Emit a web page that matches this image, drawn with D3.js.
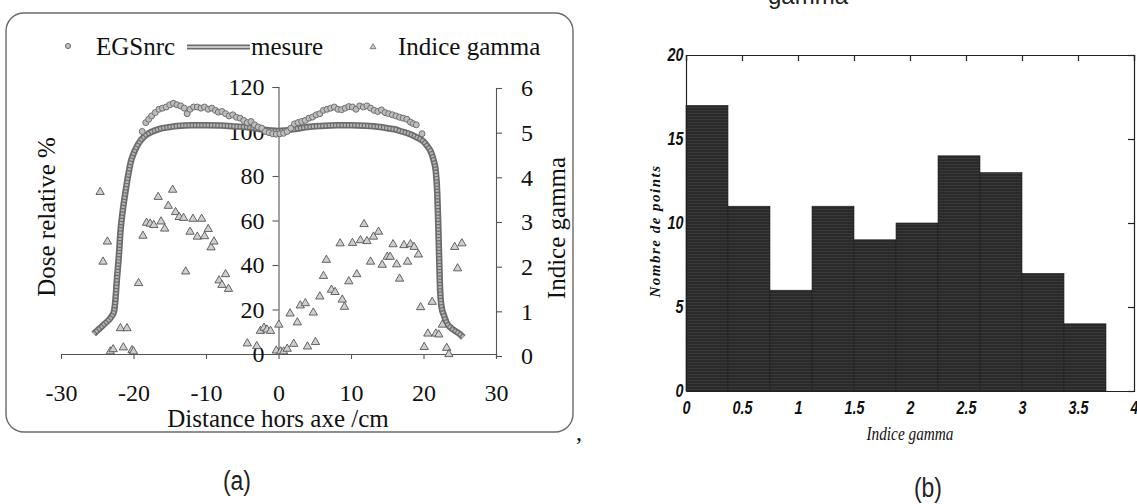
<!DOCTYPE html>
<html><head><meta charset="utf-8">
<script src="https://cdn.jsdelivr.net/npm/d3@7"></script>
<style>
html,body{margin:0;padding:0;background:#fff;}
svg{display:block;}
</style></head><body>
<svg id="fig" width="1137" height="504"></svg>
<script>
// ---------- (a) off-axis dose profile ----------
// measured profile (distance cm, relative dose %)
const mesurePoints = [
  [-25.5,9],[-25,10.5],[-24.5,12],[-24,13.5],[-23.5,15],[-23,17],[-22.7,19],[-22.5,24],[-22.3,33],
  [-22.0,45],[-21.8,55],[-21.5,64],[-21.1,73],[-20.7,81],[-20.4,86],[-20,90],[-19.5,93.5],[-19,96],
  [-18.5,97.8],[-18,99],[-17,100.5],[-16,101.5],[-15,102],[-14,102.5],[-12,102.8],[-10,102.8],
  [-8,102.7],[-6,102.3],[-4,101.8],[-3,101.3],[-2,100.8],[-1,100.4],[0,100.2],[1,100.5],[2,101],
  [3,101.5],[4,102],[6,102.5],[8,102.8],[10,102.8],[12,102.6],[14,102],[15,101.5],[16,101],[17,100],
  [18,99],[19,97.5],[20,95.5],[20.5,93.5],[21,91],[21.4,87],[21.7,82],[21.9,72],[22.0,62],[22.1,50],
  [22.2,38],[22.3,28],[22.5,21],[22.8,17.5],[23.2,14],[23.7,12],[24.3,10.5],[25,9],[25.5,7.5]
];
// Monte Carlo EGSnrc dose (distance cm, relative dose %)
const egsPoints = [
  [-18.8,100],[-18.3,104],[-17.9,105.5],[-17.5,107],[-17.0,108.5],[-16.5,110],[-16.0,110.5],[-15.5,111],
  [-15.0,112],[-14.5,112.7],[-14.0,112],[-13.5,111.5],[-13.0,110.5],[-12.6,108],[-12.2,110],[-11.7,111],
  [-11.2,111],[-10.7,110.5],[-10.2,111],[-9.7,110],[-9.2,110.5],[-8.7,109.5],[-8.3,108.7],[-7.8,109],
  [-7.3,108],[-6.8,107],[-6.3,107.5],[-5.8,106.4],[-5.3,106],[-4.8,105],[-4.3,104],[-3.8,104.5],
  [-3.3,103],[-2.8,102],[-2.3,101.5],[-1.8,100],[-1.3,99.5],[-0.8,99],[-0.3,98.8],[0.2,99],[0.7,99.2],
  [1.2,100],[1.7,101.5],[2.2,103.4],[2.7,104],[3.2,104.5],[3.7,105],[4.2,106],[4.7,106.5],[5.2,107.5],
  [5.7,108],[6.2,109.5],[6.7,110],[7.2,110.5],[7.7,111],[8.2,110],[8.7,109.8],[9.2,110.5],[9.7,111.2],
  [10.2,111],[10.7,110],[11.2,111.5],[11.7,111],[12.2,111.5],[12.7,110.5],[13.2,109.5],[13.7,109],
  [14.2,109.7],[14.7,108.5],[15.2,108],[15.7,107.5],[16.2,107],[16.7,106.4],[17.2,106],[17.7,105.5],
  [18.2,104.2],[18.6,103.5],[19.0,103],[19.8,99]
];
// gamma index per point (distance cm, gamma)
const gammaPoints = [
  [-24.6,3.67],[-24.2,2.11],[-23.6,2.56],[-23.2,0.10],[-22.8,0.15],[-21.8,0.62],[-21.4,0.19],[-20.9,0.62],
  [-20.2,0.13],[-20.0,0.10],[-19.3,1.63],[-18.7,2.69],[-18.2,2.98],[-17.7,2.96],[-17.2,2.93],[-16.6,3.56],
  [-16.2,3.01],[-15.7,2.85],[-15.2,3.36],[-14.6,3.72],[-14.2,3.22],[-13.7,3.11],[-13.1,3.09],[-12.8,1.89],
  [-12.2,2.78],[-11.8,3.07],[-11.2,2.67],[-10.6,3.07],[-10.2,2.68],[-9.7,2.84],[-9.3,2.43],[-8.9,2.56],
  [-8.2,1.69],[-7.8,1.59],[-7.3,1.83],[-6.9,1.50],[-4.3,0.28],[-3.0,0.22],[-2.5,0.56],[-2.0,0.63],
  [-1.6,0.59],[-1.1,0.56],[-0.3,0.12],[0.05,0.70],[0.3,0.10],[0.7,0.10],[1.2,0.16],[1.6,0.95],[2.1,0.27],
  [2.6,0.75],[3.0,1.13],[3.7,1.18],[4.0,0.21],[4.8,0.97],[5.1,0.31],[5.7,1.33],[6.2,1.79],[6.6,2.15],
  [7.3,1.48],[7.8,1.43],[8.5,2.52],[8.8,1.26],[9.1,1.10],[9.7,1.67],[10.2,2.53],[10.8,1.83],[11.3,2.59],
  [11.8,2.95],[12.2,2.57],[12.7,2.11],[13.1,2.67],[13.8,2.78],[14.3,2.04],[15.0,2.22],[15.4,2.22],
  [15.8,2.50],[16.3,2.05],[16.7,1.73],[17.3,2.48],[17.8,2.11],[18.2,2.50],[18.7,2.44],[19.3,2.27],
  [19.6,1.09],[20.1,0.20],[20.6,0.50],[21.2,1.21],[21.7,0.50],[22.1,0.48],[22.6,0.70],[23.2,0.18],
  [23.5,0.04],[24.3,2.44],[24.7,1.96],[25.3,2.52]
];
const distTicks = [-30,-20,-10,0,10,20,30];
const doseTicks = [0,20,40,60,80,100,120];
const gammaTicks = [0,1,2,3,4,5,6];
const legendLabels = ["EGSnrc","mesure","Indice gamma"];

// ---------- (b) histogram of gamma index ----------
const binEdges = [0,0.375,0.75,1.125,1.5,1.875,2.25,2.625,3,3.375,3.75];
const binCounts = [17,11,6,11,9,10,14,13,7,4];
const histXTicks = [0,0.5,1,1.5,2,2.5,3,3.5,4];
const histYTicks = [0,5,10,15,20];

const svg = d3.select("#fig");
const SERIF = "'Liberation Serif','Times New Roman',serif";
const SANS = "'Liberation Sans',Arial,sans-serif";
const plain = d => String(d);   // "-30" with a plain hyphen, integers without decimals

// ===== panel (a) =====
const A = svg.append("g");
A.append("rect").attr("x",6).attr("y",13).attr("width",567).attr("height",419)
  .attr("rx",18).attr("fill","none").attr("stroke","#6a6a6a").attr("stroke-width",1.4);

const x = d3.scaleLinear().domain([-30,30]).range([61,496]);
const yDose = d3.scaleLinear().domain([0,120]).range([354,87]);
const yGamma = d3.scaleLinear().domain([0,6]).range([356,88]);

function styleAxis(g, size){
  g.selectAll("path,line").attr("stroke","#555").attr("stroke-width",1.1);
  g.selectAll("text").attr("font-family",SERIF).attr("font-size",size).attr("fill","#111");
}
// horizontal distance axis at dose 0
const gx = A.append("g").attr("transform",`translate(0,${yDose(0)})`)
  .call(d3.axisBottom(x).tickValues(distTicks).tickSize(5).tickSizeOuter(5).tickPadding(25).tickFormat(plain));
styleAxis(gx,24);
// dose axis through distance 0
const gyd = A.append("g").attr("transform",`translate(${x(0)},0)`)
  .call(d3.axisLeft(yDose).tickValues(doseTicks).tickSize(6).tickSizeOuter(6).tickPadding(8).tickFormat(plain));
styleAxis(gyd,24);
// gamma axis at distance 30
const gyg = A.append("g").attr("transform",`translate(${x(30)},0)`)
  .call(d3.axisRight(yGamma).tickValues(gammaTicks).tickSize(6).tickSizeOuter(6).tickPadding(19).tickFormat(plain));
styleAxis(gyg,24);

// measured profile: thick grey line with darker rim
const line = d3.line().x(d=>x(d[0])).y(d=>yDose(d[1])).curve(d3.curveMonotoneX);
A.append("path").datum(mesurePoints).attr("d",line).attr("fill","none")
  .attr("stroke","#6c6c6c").attr("stroke-width",6.5).attr("stroke-linejoin","round");
A.append("path").datum(mesurePoints).attr("d",line).attr("fill","none")
  .attr("stroke","#b4b4b4").attr("stroke-width",3).attr("stroke-dasharray","2,1.2");

// EGSnrc points
A.append("g").selectAll("circle").data(egsPoints).join("circle")
  .attr("cx",d=>x(d[0])).attr("cy",d=>yDose(d[1])).attr("r",3)
  .attr("fill","#bdbdbd").attr("stroke","#707070").attr("stroke-width",1);

// gamma index points
const tri = d3.symbol().type(d3.symbolTriangle).size(30);
A.append("g").selectAll("path").data(gammaPoints).join("path")
  .attr("d",tri).attr("transform",d=>`translate(${x(d[0])},${yGamma(d[1])})`)
  .attr("fill","#cfcfcf").attr("stroke","#555").attr("stroke-width",0.9);

// axis titles
A.append("text").attr("x",278).attr("y",427).attr("text-anchor","middle")
  .attr("font-family",SERIF).attr("font-size",25).attr("fill","#111").text("Distance hors axe /cm");
A.append("text").attr("transform","translate(55,217) rotate(-90)").attr("text-anchor","middle")
  .attr("font-family",SERIF).attr("font-size",25).attr("fill","#111").text("Dose relative %");
A.append("text").attr("transform","translate(565,228) rotate(-90)").attr("text-anchor","middle")
  .attr("font-family",SERIF).attr("font-size",25).attr("fill","#111").text("Indice gamma");

// legend
const L = A.append("g").attr("font-family",SERIF).attr("font-size",25).attr("fill","#111");
L.append("circle").attr("cx",68).attr("cy",46).attr("r",2.6).attr("fill","#bdbdbd").attr("stroke","#707070");
L.append("text").attr("x",96).attr("y",55).text(legendLabels[0]);
L.append("line").attr("x1",187).attr("x2",250).attr("y1",47).attr("y2",47).attr("stroke","#6c6c6c").attr("stroke-width",5);
L.append("line").attr("x1",187).attr("x2",250).attr("y1",47).attr("y2",47).attr("stroke","#c4c4c4").attr("stroke-width",1.8);
L.append("text").attr("x",251).attr("y",55).text(legendLabels[1]);
L.append("path").attr("d",tri).attr("transform","translate(373,47) scale(0.7)").attr("fill","#cfcfcf").attr("stroke","#555");
L.append("text").attr("x",398).attr("y",55).text(legendLabels[2]);

svg.append("text").attr("x",576).attr("y",440).attr("font-family",SERIF).attr("font-size",24).attr("fill","#111").text(",");
svg.append("text").attr("transform","translate(237,490) scale(0.85,1)").attr("text-anchor","middle")
  .attr("font-family",SANS).attr("font-size",27).attr("fill","#222").text("(a)");

// ===== panel (b) =====
const B = svg.append("g");
const hx = d3.scaleLinear().domain([0,4]).range([686,1134]);
const hy = d3.scaleLinear().domain([0,20]).range([391,55]);

// title running above the panel, mostly beyond the top edge
B.append("text").attr("x",808).attr("y",4).attr("text-anchor","middle")
  .attr("font-family",SANS).attr("font-size",24).attr("fill","#222").text("gamma");

// halftone-like texture for bars
const defs = svg.append("defs");
const pat = defs.append("pattern").attr("id","tex").attr("patternUnits","userSpaceOnUse").attr("width",4).attr("height",3);
pat.append("rect").attr("width",4).attr("height",3).attr("fill","#2a2a2a");
pat.append("rect").attr("y",2).attr("width",4).attr("height",0.8).attr("fill","#3c3c3c");

const bins = binCounts.map((c,i)=>({x0:binEdges[i],x1:binEdges[i+1],n:c}));
B.append("g").selectAll("rect").data(bins).join("rect")
  .attr("x",d=>hx(d.x0)).attr("y",d=>hy(d.n))
  .attr("width",d=>hx(d.x1)-hx(d.x0)).attr("height",d=>hy(0)-hy(d.n))
  .attr("fill","url(#tex)").attr("stroke","#1e1e1e").attr("stroke-width",0.6);

function styleH(g){
  g.selectAll("path,line").attr("stroke","#222").attr("stroke-width",1.2);
  g.selectAll("text").attr("font-family",SANS).attr("font-size",18).attr("font-weight","bold")
    .attr("font-style","italic").attr("fill","#111");
}
const hbx = B.append("g").attr("transform",`translate(0,${hy(0)})`)
  .call(d3.axisBottom(hx).tickValues(histXTicks).tickSize(0).tickPadding(10).tickFormat(plain));
styleH(hbx);
hbx.selectAll("text").attr("transform","scale(0.8,1)");
const hly = B.append("g").attr("transform",`translate(${hx(0)},0)`)
  .call(d3.axisLeft(hy).tickValues(histYTicks).tickSize(0).tickPadding(3).tickFormat(plain));
styleH(hly);
hly.selectAll("text").attr("transform","scale(0.8,1)");
const hty = B.append("g").attr("transform",`translate(0,${hy(20)})`)
  .call(d3.axisTop(hx).tickValues(histXTicks).tickSize(-6).tickFormat(""));
styleH(hty);
const hry = B.append("g").attr("transform",`translate(${hx(4)},0)`)
  .call(d3.axisRight(hy).tickValues(histYTicks).tickSize(-6).tickFormat(""));
styleH(hry);

B.append("text").attr("transform",`translate(${hx(2)},440) scale(0.85,1)`).attr("text-anchor","middle")
  .attr("font-family",SERIF).attr("font-style","italic").attr("font-size",18).attr("fill","#111").text("Indice gamma");
B.append("text").attr("transform","translate(660,231) rotate(-90)").attr("text-anchor","middle")
  .attr("font-family",SERIF).attr("font-style","italic").attr("font-weight","bold").attr("letter-spacing",1.5)
  .attr("font-size",15).attr("fill","#111").text("Nombre de points");
svg.append("text").attr("transform","translate(928,497) scale(0.85,1)").attr("text-anchor","middle")
  .attr("font-family",SANS).attr("font-size",27).attr("fill","#222").text("(b)");
</script>
</body></html>
